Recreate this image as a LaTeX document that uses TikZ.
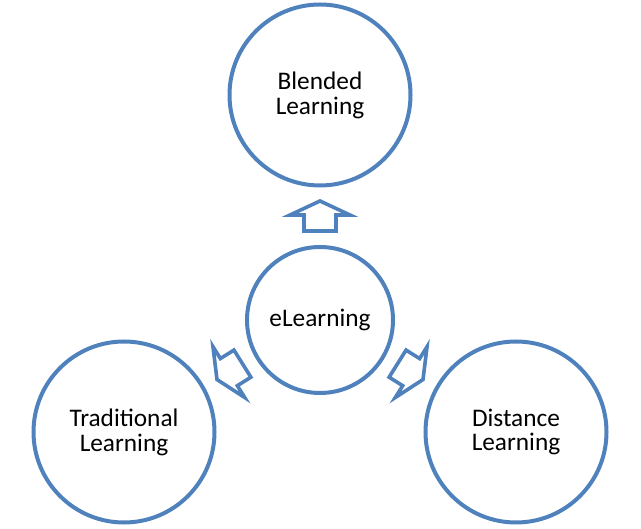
\documentclass[tikz,border=0pt]{standalone}
\usepackage{fontspec}
\setmainfont{Carlito}
\usetikzlibrary{calc}
\definecolor{ringblue}{RGB}{79,129,189}
\tikzset{%
  ring/.style     = {draw=ringblue, line width=0.1cm},%
  bubble/.style   = {ring, shape=circle, align=center,%
                     minimum size=4.525cm, inner sep=0pt,%
                     font=\fontsize{18}{17.7}\selectfont},%
  hub/.style      = {bubble, minimum size=3.65cm},%
  blockarrow/.pic = {\draw[ring, line width=0.09cm, fill=white]%
                     (-0.375,-0.4) -- (0.025,-0.4) -- (0.025,-0.75) -- (0.375,0)%
                     -- (0.025,0.75) -- (0.025,0.4) -- (-0.375,0.4) -- cycle;}%
}
\begin{document}
\begin{tikzpicture}
  \useasboundingbox (0,0) rectangle (16.025,13.225);
  \node[hub]    (elearn)  at (8.0,5.225)   {eLearning};
  \node[bubble] (blended) at (8.0,10.85)   {Blended\\Learning};
  \node[bubble] (trad)    at (3.1,2.425)   {Traditional\\Learning};
  \node[bubble] (dist)    at (12.9,2.425)  {Distance\\Learning};
  % hollow arrows out of the hub
  \pic[rotate=90]  at ($(elearn)!2.6cm!(blended)$) {blockarrow};
  \pic[rotate=212] at ($(elearn)!2.6cm!(trad)$)    {blockarrow};
  \pic[rotate=328] at ($(elearn)!2.6cm!(dist)$)    {blockarrow};
\end{tikzpicture}
\end{document}
